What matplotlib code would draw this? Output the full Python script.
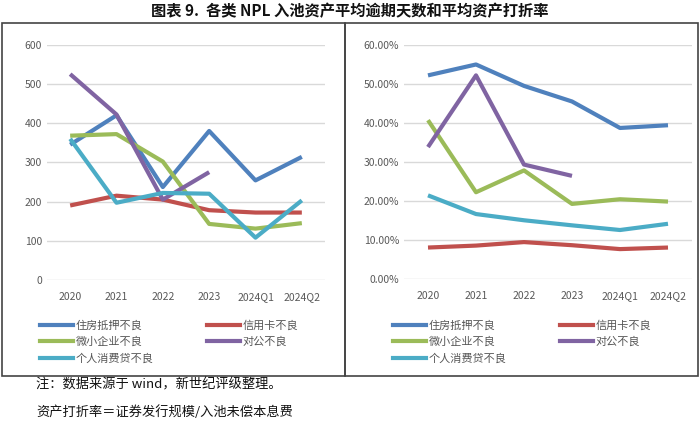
import matplotlib
matplotlib.use('Agg')
import matplotlib.pyplot as plt
from matplotlib.lines import Line2D
from matplotlib.ticker import FuncFormatter

plt.rcParams['font.family'] = ['Noto Sans CJK SC', 'DejaVu Sans']

# 数据
periods = ['2020', '2021', '2022', '2023', '2024Q1', '2024Q2']
series_names = ['住房抵押不良', '信用卡不良', '微小企业不良', '对公不良', '个人消费贷不良']
colors = ['#4f81bd', '#c0504d', '#9bbb59', '#8064a2', '#4bacc6']

# 平均逾期天数
days_housing = [345, 420, 237, 380, 254, 314]
days_card = [190, 215, 205, 178, 172, 172]
days_small = [368, 372, 302, 143, 131, 145]
days_corp = [525, 422, 205, 275]
days_consumer = [360, 197, 222, 220, 108, 203]

# 平均资产打折率 (%)
rate_housing = [52.2, 55.0, 49.5, 45.5, 38.7, 39.4]
rate_card = [8.0, 8.5, 9.4, 8.6, 7.6, 8.0]
rate_small = [40.7, 22.2, 27.8, 19.2, 20.4, 19.8]
rate_corp = [33.8, 52.2, 29.3, 26.4]
rate_consumer = [21.4, 16.6, 15.0, 13.7, 12.5, 14.1]

left_data = [days_housing, days_card, days_small, days_corp, days_consumer]
right_data = [rate_housing, rate_card, rate_small, rate_corp, rate_consumer]

fig = plt.figure(figsize=(7, 4.24), dpi=100)

W, H = 700, 424


def fx(x):
    return x / W


def fy(y):
    return 1 - y / H


# 外框
for x0, x1 in [(2, 345), (345, 698)]:
    fig.add_artist(plt.Rectangle((fx(x0), fy(376)), fx(x1 - x0), (376 - 23) / H,
                                 fill=False, edgecolor='#444444', linewidth=1.2,
                                 transform=fig.transFigure))

fig.text(0.5, fy(11), '图表 9.  各类 NPL 入池资产平均逾期天数和平均资产打折率',
         ha='center', va='center', fontsize=11, fontweight='bold', color='#111111')


def style_axes(ax):
    for s in ax.spines.values():
        s.set_visible(False)
    ax.grid(axis='y', color='#d9d9d9', linewidth=1)
    ax.set_axisbelow(True)
    ax.tick_params(length=0, labelsize=7.5, labelcolor='#595959')
    ax.tick_params(axis='x', pad=9)
    ax.set_xlim(-0.5, len(periods) - 0.5)


ax1 = fig.add_axes([fx(47), fy(280), fx(325 - 47), (280 - 44.7) / H])
ax2 = fig.add_axes([fx(404), fy(278.7), fx(692 - 404), (278.7 - 45) / H])

for ax, data in [(ax1, left_data), (ax2, right_data)]:
    style_axes(ax)
    for vals, c in zip(data, colors):
        ax.plot(range(len(vals)), vals, color=c, linewidth=3, solid_capstyle='butt')
    ax.set_xticks(range(len(periods)))
    ax.set_xticklabels(periods)

ax1.set_ylim(0, 600)
ax1.set_yticks(range(0, 601, 100))
ax2.set_ylim(0, 60)
ax2.set_yticks(range(0, 61, 10))
ax2.yaxis.set_major_formatter(FuncFormatter(lambda v, p: f'{v:.2f}%'))

# 图例（按列填充顺序）
order = [0, 2, 4, 1, 3]
handles = [Line2D([], [], color=colors[i], linewidth=3) for i in order]
labels = [series_names[i] for i in order]
for x0 in [40, 393]:
    fig.legend(handles, labels, loc='upper left', bbox_to_anchor=(fx(x0), fy(320)),
               ncol=2, frameon=False, fontsize=8, labelcolor='#555555',
               handlelength=3.0, handletextpad=0.2, columnspacing=4.8,
               labelspacing=0.55, borderpad=0, borderaxespad=0)

fig.text(fx(36), fy(385), '注：数据来源于 wind，新世纪评级整理。', ha='left', va='center',
         fontsize=9.5, color='#111111')
fig.text(fx(36), fy(412), '资产打折率＝证券发行规模/入池未偿本息费', ha='left', va='center',
         fontsize=9.5, color='#111111')

fig.savefig('out.png', dpi=100)
